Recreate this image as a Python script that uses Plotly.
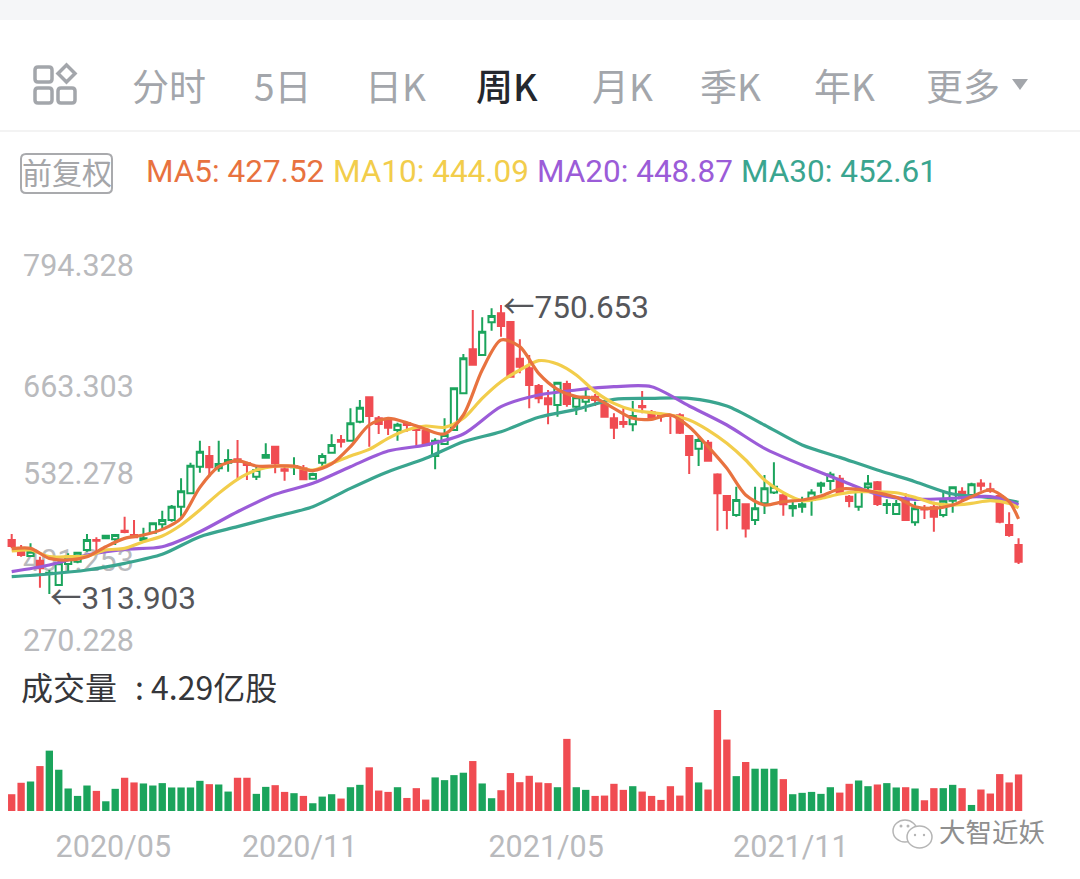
import plotly.graph_objects as go

W, H = 1080, 879

# weekly candles, values
opens = [395.5, 377.9, 371.3, 364.3, 344.1, 327.5, 359.2, 362.8, 380.4, 395.5,
         398.0, 396.5, 409.6, 403.1, 395.5, 406.6, 419.2, 425.8, 445.9, 466.0,
         506.3, 522.5, 503.8, 512.4, 517.4, 511.4, 491.2, 519.9, 536.6, 502.3,
         505.3, 503.8, 488.2, 512.4, 527.5, 546.6, 545.6, 574.3, 611.1, 579.4,
         576.9, 561.7, 571.8, 562.8, 560.7, 522.5, 540.6, 561.7, 617.2, 683.6,
         675.1, 724.4, 738.0, 724.9, 669.5, 655.0, 628.2, 609.6, 599.5, 631.3,
         597.0, 604.6, 612.1, 600.5, 579.4, 573.8, 570.3, 598.0, 588.4, 583.9,
         583.9, 583.9, 552.7, 533.5, 542.6, 494.7, 462.0, 433.3, 449.4, 425.7,
         450.9, 467.5, 463.0, 443.4, 445.9, 456.0, 477.6, 484.7, 488.2, 461.0,
         445.9, 475.1, 482.7, 448.4, 434.8, 456.0, 422.2, 443.4, 444.9, 433.3,
         454.9, 468.5, 463.5, 481.1, 472.1, 462.0, 418.2, 388.0]
highs = [404.6, 388.0, 390.5, 370.4, 350.2, 365.3, 375.4, 377.9, 404.6, 399.6,
         403.1, 404.6, 430.8, 425.8, 414.2, 421.7, 439.9, 448.4, 488.7, 512.4,
         545.6, 537.6, 545.6, 532.5, 546.6, 513.9, 506.3, 541.6, 536.6, 506.3,
         520.4, 508.9, 497.3, 526.5, 555.2, 554.2, 594.5, 607.1, 612.1, 582.9,
         579.4, 572.8, 574.3, 564.3, 561.7, 549.2, 579.4, 624.7, 676.6, 743.1,
         732.0, 745.6, 750.65, 725.4, 698.8, 675.1, 631.3, 622.2, 633.3, 636.3,
         612.1, 623.2, 616.2, 607.1, 586.9, 594.5, 605.6, 620.7, 592.0, 588.0,
         584.4, 586.9, 554.2, 551.7, 546.6, 496.3, 463.5, 476.1, 450.9, 476.1,
         493.7, 512.9, 466.0, 456.0, 461.0, 472.1, 483.7, 498.8, 493.7, 463.5,
         471.1, 493.7, 484.7, 457.0, 456.0, 466.0, 453.4, 448.4, 453.4, 468.5,
         476.1, 475.1, 482.1, 487.2, 482.1, 465.0, 437.3, 398.0]
lows = [382.9, 370.4, 370.4, 323.5, 313.9, 326.0, 347.7, 360.3, 377.9, 377.9,
        397.0, 388.0, 405.6, 398.0, 393.0, 404.6, 413.2, 423.2, 430.8, 465.0,
        497.3, 491.2, 498.8, 498.8, 486.2, 486.2, 486.2, 518.9, 496.3, 485.2,
        493.7, 486.2, 487.2, 506.3, 526.5, 535.5, 544.1, 571.8, 536.6, 555.7,
        554.2, 545.6, 559.2, 536.6, 537.6, 502.3, 539.1, 561.7, 616.2, 659.5,
        674.1, 711.8, 702.8, 641.3, 647.4, 594.5, 602.0, 570.3, 581.9, 597.0,
        584.4, 589.4, 598.0, 580.9, 548.2, 565.3, 559.7, 586.9, 577.9, 574.3,
        555.7, 555.7, 495.3, 507.3, 513.9, 409.6, 411.6, 430.8, 399.5, 418.2,
        434.8, 465.0, 432.3, 430.8, 436.8, 432.3, 466.0, 471.1, 465.0, 444.9,
        439.8, 470.1, 446.9, 434.8, 434.3, 424.7, 417.2, 427.3, 408.1, 429.8,
        436.8, 453.4, 461.0, 470.1, 467.0, 420.7, 400.6, 359.2]
closes = [386.5, 372.9, 377.9, 352.7, 346.2, 360.3, 370.4, 376.4, 395.5, 394.5,
          402.1, 403.1, 407.6, 399.6, 398.0, 420.7, 425.8, 445.9, 469.1, 507.9,
          529.0, 505.3, 510.4, 516.4, 513.9, 508.9, 501.3, 524.0, 511.4, 500.3,
          507.3, 487.2, 495.3, 522.5, 539.1, 544.1, 571.8, 595.5, 582.9, 570.8,
          565.3, 569.8, 569.3, 561.7, 539.1, 545.6, 554.2, 624.7, 670.1, 660.5,
          710.3, 734.0, 718.9, 642.3, 657.4, 629.7, 609.6, 600.5, 633.3, 601.0,
          611.1, 612.1, 607.1, 581.9, 565.3, 570.8, 582.9, 596.0, 579.4, 582.9,
          582.9, 557.7, 524.0, 546.6, 515.4, 466.0, 440.8, 456.0, 413.1, 443.4,
          473.6, 476.1, 449.4, 446.9, 449.4, 467.5, 481.1, 494.7, 467.0, 454.4,
          469.6, 481.1, 449.9, 449.9, 449.9, 425.7, 443.4, 441.8, 430.8, 454.9,
          475.1, 458.5, 479.6, 477.6, 470.1, 423.2, 403.1, 362.8]

# 亿股
volumes = [1.97, 3.31, 3.46, 5.27, 7.08, 4.84, 2.64, 1.77, 2.99, 2.36,
           1.14, 2.60, 3.90, 3.35, 3.23, 2.99, 3.27, 2.76, 2.76, 2.76,
           3.54, 3.15, 3.11, 2.28, 3.90, 3.90, 2.01, 2.83, 3.03, 2.24,
           2.09, 1.77, 0.91, 1.69, 1.97, 1.46, 2.79, 3.07, 5.12, 2.40,
           2.24, 2.79, 1.53, 2.68, 1.34, 3.94, 3.62, 4.21, 4.49, 5.86,
           3.23, 1.50, 2.44, 4.45, 3.38, 4.13, 3.35, 3.27, 2.79, 8.46,
           2.79, 2.48, 1.77, 1.81, 3.19, 2.48, 2.91, 2.28, 1.77, 1.30,
           2.91, 1.81, 5.16, 3.35, 2.52, 11.85, 8.38, 4.09, 5.75, 4.96,
           4.96, 4.96, 3.74, 1.97, 2.13, 2.24, 2.01, 2.79, 2.16, 3.19,
           3.58, 2.91, 3.11, 3.27, 2.76, 2.79, 2.64, 1.26, 2.68, 2.68,
           3.07, 2.68, 0.71, 2.52, 2.05, 4.33, 3.35, 4.29]

# moving averages, read every 2nd / 4th week
ma_short_weeks = list(range(0, 108, 2)) + [107]
ma_long_weeks = list(range(0, 108, 4)) + [107]
ma5 = [382.4, 382.9, 367.8, 365.3, 370.4, 385.4, 398.0, 403.1, 411.6, 428.3,
       475.1, 506.3, 515.4, 507.3, 507.3, 507.3, 500.3, 510.4, 536.6,
       569.3, 579.4, 572.8, 562.8, 555.7, 584.4, 652.4, 697.7, 687.7, 647.4,
       623.2, 612.1, 609.6, 594.5, 579.4, 577.9, 584.4, 566.8, 536.6,
       503.8, 463.5, 448.4, 453.4, 456.0, 462.0, 472.6, 472.1, 467.0, 460.0,
       445.9, 443.4, 448.4, 461.0, 471.1, 453.4, 427.52]
ma10 = [378.9, 380.4, 370.4, 370.4, 371.3, 380.4, 382.9, 393.0, 401.6, 418.2,
        440.9, 466.0, 487.2, 501.3, 507.3, 506.3, 501.3, 511.4, 522.5,
        532.5, 549.2, 561.7, 567.8, 565.8, 579.4, 609.6, 634.8, 652.4, 666.5,
        661.5, 644.9, 619.7, 602.0, 592.0, 588.0, 584.4, 576.9, 561.7,
        541.6, 516.4, 486.2, 467.0, 454.9, 458.5, 465.0, 468.5, 468.5, 467.0,
        460.0, 450.9, 448.4, 450.9, 454.9, 450.9, 444.09]
ma20 = [347.7, 357.8, 372.9, 381.4, 385.4, 408.1, 438.3, 464.5, 481.2, 506.3,
        530.0, 539.1, 555.7, 597.0, 614.6, 622.2, 627.2, 627.2, 598.0,
        569.3, 534.0, 508.8, 486.2, 464.5, 457.0, 458.5, 461.0, 448.87]
ma30 = [340.1, 344.2, 350.2, 360.3, 373.9, 400.6, 415.7, 430.8, 445.9, 473.6,
        498.8, 518.9, 544.1, 559.2, 580.9, 593.0, 608.1, 609.6, 609.6,
        598.0, 569.3, 539.1, 520.4, 501.3, 483.7, 465.0, 459.5, 452.61]

price_labels = ["794.328", "663.303", "532.278", "401.253", "270.228"]
price_label_rows = [265, 386, 473, 560, 640]  # these don't sit at their true price in the app
date_labels = ["2020/05", "2020/11", "2021/05", "2021/11"]
date_label_weeks = [10.8, 30.6, 56.8, 82.8]

weeks = list(range(len(closes)))

GREEN = "#1ba45c"
RED = "#f04c52"
ORANGE = "#e8723f"
YELLOW = "#f2cd4b"
PURPLE = "#9b5cd8"
TEAL = "#3aa58f"
GREY = "#b9babd"
TAB = "#a3a6ab"
LATIN = "Roboto, Noto Sans CJK SC"
CJK = "Noto Sans CJK SC, Roboto"


def px(x):
    return x / W


def py(y):
    return 1 - y / H


def label(text, x, y, size=31.5, color=GREY, family=LATIN, weight=None):
    return dict(text=text, x=px(x), y=py(y), xref="paper", yref="paper", showarrow=False,
                xanchor="left", yanchor="middle", borderpad=0,
                font=dict(size=size, color=color, family=family, weight=weight))


def box_path(x0, y0, x1, y1, r):
    return (f"M {px(x0 + r)} {py(y0)} L {px(x1 - r)} {py(y0)} Q {px(x1)} {py(y0)} {px(x1)} {py(y0 + r)} "
            f"L {px(x1)} {py(y1 - r)} Q {px(x1)} {py(y1)} {px(x1 - r)} {py(y1)} "
            f"L {px(x0 + r)} {py(y1)} Q {px(x0)} {py(y1)} {px(x0)} {py(y1 - r)} "
            f"L {px(x0)} {py(y0 + r)} Q {px(x0)} {py(y0)} {px(x0 + r)} {py(y0)} Z")


def paper_shape(**kw):
    return dict(xref="paper", yref="paper", **kw)


def dot(x, y, r=1.5):
    return paper_shape(type="circle", x0=px(x - r), x1=px(x + r), y0=py(y + r), y1=py(y - r),
                       fillcolor="#b5b5b5", line=dict(width=0))


fig = go.Figure()

# carries the y axis that holds the price labels, so they stay under the candles
fig.add_trace(go.Scatter(x=[weeks[0]], y=[price_label_rows[0]], mode="none", showlegend=False,
                         hoverinfo="skip", xaxis="x", yaxis="y"))

fig.add_trace(go.Candlestick(x=weeks, open=opens, high=highs, low=lows, close=closes,
                             xaxis="x", yaxis="y2", whiskerwidth=0, showlegend=False,
                             increasing=dict(line=dict(color=GREEN, width=2), fillcolor="white"),
                             decreasing=dict(line=dict(color=RED, width=2), fillcolor=RED)))

for name, xs, ys, col in [("MA30", ma_long_weeks, ma30, TEAL),
                          ("MA20", ma_long_weeks, ma20, PURPLE),
                          ("MA10", ma_short_weeks, ma10, YELLOW),
                          ("MA5", ma_short_weeks, ma5, ORANGE)]:
    fig.add_trace(go.Scatter(x=xs, y=ys, mode="lines", name=name, showlegend=False,
                             line=dict(color=col, width=3.2, shape="spline", smoothing=0.8),
                             xaxis="x", yaxis="y2"))

vol_colors = [GREEN if c >= o else RED for o, c in zip(opens, closes)]
fig.add_trace(go.Bar(x=weeks, y=volumes, marker=dict(color=vol_colors, line=dict(width=0)),
                     width=0.78, showlegend=False, xaxis="x", yaxis="y3"))

annotations = [
    label("分时", 131, 85, 37, TAB, CJK),
    label("5日", 253, 85, 37, TAB, CJK),
    label("日K", 364, 85, 37, TAB, CJK),
    label("周K", 475, 85, 37, "#24272d", CJK, 500),
    label("月K", 591, 85, 37, TAB, CJK),
    label("季K", 699, 85, 37, TAB, CJK),
    label("年K", 813, 85, 37, TAB, CJK),
    label("更多", 925, 85, 37, TAB, CJK),
    label("前复权", 21, 171, 30, "#a5a6a9", CJK),
    label("MA5: 427.52", 145, 172),
    label("MA10: 444.09", 332, 172),
    label("MA20: 448.87", 536, 172),
    label("MA30: 452.61", 740, 172),
    label("←750.653", 502, 307, 31.5, "#55565a"),
    label("←313.903", 49, 598, 31.5, "#55565a"),
    label("成交量", 20, 686, 32, "#35363a", CJK),
    label(": 4.29亿股", 134, 686, 32, "#35363a", CJK),
    label("大智近妖", 938, 830, 26.5, "#8f8f8f", CJK),
]
for ann, col in zip(annotations[9:13], [ORANGE, YELLOW, PURPLE, TEAL]):
    ann["font"]["color"] = col

shapes = [
    paper_shape(type="rect", x0=0, x1=1, y0=py(20), y1=py(0), fillcolor="#f5f6f8", line=dict(width=0)),
    paper_shape(type="line", x0=0, x1=1, y0=py(131), y1=py(131), line=dict(color="#efefef", width=1.5)),
    paper_shape(type="path", path=box_path(21, 154, 112, 193, 5), line=dict(color="#a9aaad", width=2)),
    # menu icon
    paper_shape(type="path", path=box_path(35, 67, 52, 82, 3), line=dict(color=TAB, width=3.5)),
    paper_shape(type="path", path=box_path(35, 88, 52, 103, 3), line=dict(color=TAB, width=3.5)),
    paper_shape(type="path", path=box_path(58, 88, 75, 103, 3), line=dict(color=TAB, width=3.5)),
    paper_shape(type="path",
                path=f"M {px(66.5)} {py(65)} L {px(75)} {py(73.5)} L {px(66.5)} {py(82)} L {px(58)} {py(73.5)} Z",
                line=dict(color=TAB, width=3.5)),
    # 更多 triangle
    paper_shape(type="path",
                path=f"M {px(1012)} {py(79)} L {px(1028)} {py(79)} L {px(1020)} {py(90)} Z",
                fillcolor=TAB, line=dict(width=0)),
    # watermark bubbles
    paper_shape(type="circle", x0=px(893), x1=px(917), y0=py(842), y1=py(820), line=dict(color="#b5b5b5", width=1.5)),
    paper_shape(type="circle", x0=px(907), x1=px(932), y0=py(848), y1=py(826), fillcolor="white",
                line=dict(color="#b5b5b5", width=1.5)),
    dot(901, 826),
    dot(908, 826),
    dot(915, 835, 1.2),
    dot(924, 835, 1.2),
]

fig.update_layout(
    width=W, height=H, margin=dict(l=0, r=0, t=0, b=0),
    paper_bgcolor="white", plot_bgcolor="white", showlegend=False,
    boxgap=0.05, hovermode=False,
    xaxis=dict(range=[-1.243, 113.53], anchor="free", position=py(811), showgrid=False, zeroline=False,
               showline=False, rangeslider=dict(visible=False), tickmode="array",
               tickvals=date_label_weeks, ticktext=date_labels, ticks="outside", ticklen=8,
               tickcolor="rgba(0,0,0,0)", tickfont=dict(size=30.5, color=GREY, family=LATIN)),
    # pixel rows, only used for the price labels
    yaxis=dict(range=[H, 0], domain=[0, 1], anchor="free", position=px(22), side="right", layer="below traces",
               showgrid=False, zeroline=False, showline=False, tickmode="array",
               tickvals=price_label_rows, ticktext=price_labels,
               tickfont=dict(size=30.5, color=GREY, family=LATIN)),
    yaxis2=dict(range=[-116.7, 1211.5], overlaying="y", visible=False, showgrid=False, zeroline=False),
    yaxis3=dict(range=[0, 13.02], domain=[py(811), py(700)], anchor="x", visible=False, showgrid=False,
                zeroline=False),
    annotations=annotations,
    shapes=shapes,
)

fig.write_html("out.html", config={"displayModeBar": False},
               post_script="document.body.style.margin='0';document.body.style.overflow='hidden';")
